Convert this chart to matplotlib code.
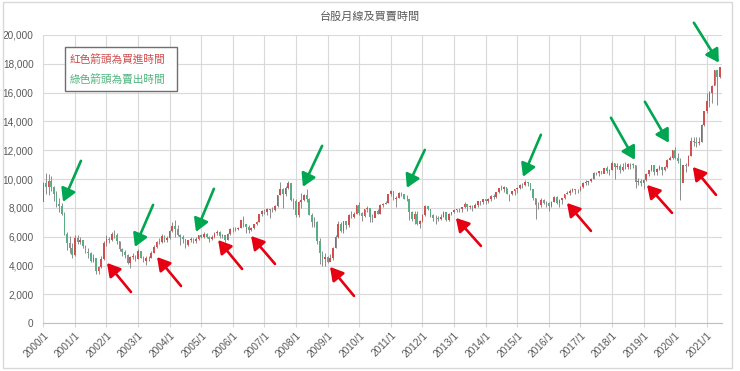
import numpy as np
import pandas as pd
from matplotlib import pyplot as plt
from matplotlib.patches import Rectangle

plt.rcParams['font.family'] = ['Liberation Sans', 'Noto Sans CJK TC']

# monthly TAIEX, 2000/1 .. 2021/6
first_open = 8448
closes = [
    9744, 9436, 9854, 9475, 8939, 8265, 8114, 7616, 6185, 5544, 5256, 4739,
    5936, 5674, 5797, 5382, 4935, 4883, 4352, 4500, 3636, 3903, 4441, 5551,
    5872, 5770, 6167, 6159, 5675, 5153, 4940, 4764, 4191, 4579, 4646, 4452,
    5015, 4556, 4321, 4556, 4555, 4872, 5318, 5650, 5611, 6045, 5771, 5890,
    6375, 6750, 6522, 6117, 5977, 5839, 5420, 5766, 5845, 5705, 5844, 6140,
    5994, 6207, 6005, 5818, 6012, 6241, 6312, 6033, 6118, 5764, 6203, 6548,
    6532, 6561, 6613, 7171, 6870, 6704, 6454, 6611, 6884, 7021, 7567, 7823,
    7699, 7901, 7884, 7875, 8145, 8883, 9287, 8982, 9411, 9711, 8586, 8506,
    7521, 8412, 8572, 8920, 8619, 7523, 7024, 7046, 5719, 4870, 4460, 4591,
    4248, 4557, 5210, 5992, 6890, 6432, 7078, 6826, 7509, 7340, 7582, 8188,
    7640, 7436, 7920, 8004, 7374, 7329, 7761, 7616, 8238, 8288, 8372, 8973,
    9145, 8600, 8683, 9008, 8989, 8653, 8644, 7741, 7225, 7588, 6904, 7072,
    7517, 8121, 7933, 7501, 7301, 7296, 7270, 7397, 7715, 7166, 7580, 7699,
    7850, 7897, 7918, 8093, 8254, 8062, 8107, 8021, 8173, 8450, 8406, 8611,
    8462, 8639, 8849, 8791, 9075, 9393, 9315, 9436, 8966, 8974, 9187, 9307,
    9361, 9622, 9586, 9820, 9701, 9323, 8665, 8174, 8181, 8554, 8320, 8338,
    8145, 8411, 8744, 8377, 8535, 8666, 8984, 9068, 9167, 9290, 9240, 9253,
    9448, 9750, 9811, 9872, 10040, 10395, 10427, 10585, 10383, 10793, 10560, 10643,
    11103, 10815, 10919, 10658, 10875, 10837, 11057, 11064, 11006, 9802, 9888, 9727,
    9932, 10389, 10641, 10967, 10498, 10730, 10823, 10618, 10830, 11358, 11489, 11997,
    11495, 11292, 9708, 10992, 10943, 11621, 12665, 12592, 12516, 12546, 13723, 14733,
    15410, 15953, 16431, 17567, 17068, 17755,
]
highs = [
    9800, 10393, 10328, 10200, 9500, 9150, 8700, 8350, 7700, 6300, 6030, 5600,
    6150, 6100, 6000, 5800, 5450, 5200, 4950, 4800, 4500, 4000, 4700, 5700,
    6100, 6000, 6300, 6484, 6250, 5700, 5250, 5100, 4800, 4700, 4900, 4750,
    5150, 5050, 4650, 4700, 4700, 5000, 5400, 5700, 5900, 6200, 6100, 6050,
    6450, 7000, 7135, 6800, 6200, 6100, 5850, 5800, 6000, 5950, 6000, 6160,
    6200, 6300, 6250, 6050, 6100, 6300, 6480, 6380, 6200, 6150, 6250, 6580,
    6700, 6650, 6700, 7200, 7476, 6900, 6850, 6700, 6900, 7100, 7600, 7830,
    7950, 8000, 7950, 8050, 8200, 8900, 9800, 9400, 9500, 9859, 9700, 8700,
    8600, 8450, 9050, 9000, 9309, 8700, 7650, 7400, 7100, 5900, 5000, 4850,
    4700, 4800, 5300, 6100, 7085, 7000, 7100, 7084, 7600, 7800, 7700, 8200,
    8395, 7750, 7950, 8150, 8000, 7600, 7800, 7900, 8250, 8350, 8500, 8973,
    9220, 9200, 8800, 9100, 9100, 9000, 8900, 8650, 7800, 7800, 7800, 7200,
    7600, 8200, 8170, 7950, 7550, 7500, 7450, 7600, 7800, 7750, 7620, 7750,
    7900, 7950, 8000, 8100, 8400, 8300, 8200, 8200, 8350, 8450, 8460, 8620,
    8650, 8700, 8900, 8950, 9100, 9400, 9570, 9500, 9400, 9000, 9200, 9350,
    9450, 9650, 9700, 9973, 9800, 9700, 9350, 8700, 8400, 8700, 8650, 8500,
    8400, 8450, 8800, 8800, 8600, 8700, 9000, 9150, 9300, 9400, 9300, 9350,
    9500, 9800, 9950, 9900, 10100, 10500, 10500, 10600, 10600, 10800, 10900, 10700,
    11270, 11100, 11100, 11050, 11100, 11200, 11100, 11100, 11100, 11000, 10100, 10000,
    10000, 10400, 10650, 11000, 11000, 10800, 11000, 10850, 10900, 11400, 11600, 12000,
    12197, 11800, 11500, 11000, 11100, 11650, 12900, 12950, 12900, 12950, 13800, 14750,
    16000, 16100, 16500, 17600, 17500, 17800,
]
lows = [
    8450, 9000, 8900, 9200, 8500, 8100, 7700, 7500, 6100, 5100, 4900, 4555,
    4700, 5500, 5500, 5200, 4850, 4550, 4250, 4220, 3450, 3411, 3850, 4400,
    5350, 5550, 5700, 5900, 5500, 5050, 4700, 4550, 4100, 3850, 4450, 4350,
    4450, 4500, 4250, 4050, 4300, 4550, 4850, 5250, 5500, 5600, 5650, 5650,
    5850, 6300, 6000, 6050, 5450, 5600, 5255, 5350, 5650, 5580, 5600, 5800,
    5900, 5950, 5950, 5640, 5800, 5950, 6150, 5950, 5900, 5620, 5750, 6150,
    6300, 6400, 6450, 6600, 6700, 6230, 6250, 6400, 6550, 6800, 7000, 7450,
    7600, 7500, 7300, 7700, 7800, 8100, 8900, 7980, 8800, 9300, 8450, 7900,
    7384, 7400, 8000, 8500, 8400, 7500, 6700, 6700, 5500, 4110, 3955, 4000,
    4164, 4300, 4400, 5200, 5900, 6300, 6250, 6550, 6700, 7300, 7300, 7550,
    7500, 7080, 7400, 7750, 7030, 7050, 7350, 7550, 7600, 8100, 8250, 8350,
    8800, 8550, 8100, 8700, 8800, 8600, 8500, 7150, 7100, 6900, 6800, 6609,
    7000, 7450, 7850, 7400, 7100, 6900, 7080, 7150, 7400, 7100, 7070, 7500,
    7650, 7700, 7750, 7700, 8000, 7800, 7950, 7800, 8000, 8100, 8200, 8250,
    8300, 8350, 8500, 8650, 8700, 9050, 9250, 9100, 8950, 8500, 8900, 8900,
    9050, 9300, 9400, 9500, 9500, 9250, 8550, 7203, 7960, 8100, 8250, 8100,
    7811, 8100, 8400, 8300, 8100, 8250, 8600, 8950, 8900, 9100, 8950, 9050,
    9200, 9400, 9600, 9600, 9800, 10000, 10300, 10200, 10350, 10400, 10450, 10300,
    10650, 10000, 10700, 10400, 10600, 10700, 10700, 10700, 10800, 9400, 9600, 9500,
    9320, 9900, 10200, 10600, 10300, 10300, 10650, 10300, 10550, 10750, 11300, 11400,
    11400, 11100, 8523, 9800, 10500, 10900, 11600, 12300, 12200, 12400, 12600, 13700,
    14600, 15000, 15300, 16500, 15160, 17000,
]
years = list(range(2000, 2022))

# arrows: (head month index, head value, tail month index, tail value)
sell_arrows = [
    (7.5, 8420, 14.3, 11270), (34.8, 5300, 41.7, 8215), (58.0, 6340, 64.8, 9330),
    (98.6, 9465, 105.9, 12310), (138.1, 9395, 144.9, 12030), (182.2, 10160, 189.0, 13080),
    (224.7, 11340, 215.6, 14260), (237.6, 12520, 228.5, 15370), (256.6, 18080, 247.1, 20850),
]
buy_arrows = [
    (24.2, 4190, 33.3, 2170), (43.2, 4600, 52.3, 2590), (66.4, 5780, 75.5, 3770),
    (78.9, 6060, 88.0, 4120), (108.9, 3910, 118.0, 1900), (156.7, 7310, 166.2, 5370),
    (198.9, 8350, 208.0, 6410), (229.3, 9600, 238.8, 7660), (246.7, 10850, 255.5, 8910),
]

df = pd.DataFrame({'close': closes, 'high': highs, 'low': lows})
df['open'] = [first_open] + closes[:-1]
x = np.arange(len(df))
up = df['close'] >= df['open']

fig = plt.figure(figsize=(7.4, 3.71), dpi=100)
ax = fig.add_axes([43.3/740, 1 - 323.3/371, 679/740, (323.3-35)/371])

ax.vlines(x, df['low'], df['high'], color='#8c8c8c', lw=0.7, zorder=2)
body = (df['close'] - df['open']).abs()
bottom = df[['open', 'close']].min(axis=1)
ax.bar(x, body, 0.62, bottom=bottom,
       color=np.where(up, '#d0504f', '#5aae86'), zorder=3)

ax.set_xlim(0, 257.9)
ax.set_ylim(0, 20000)
ax.set_xticks([12*i for i in range(len(years))])
ax.set_xticklabels(['%d/1' % y for y in years], rotation=45, ha='right',
                   rotation_mode='anchor', fontsize=7.3, color='#595959')
ax.set_yticks(range(0, 20001, 2000))
ax.set_yticklabels(['{:,}'.format(v) for v in range(0, 20001, 2000)],
                   fontsize=7.2, color='#595959')
ax.tick_params(axis='x', length=3, color='#d9d9d9', pad=2)
ax.tick_params(axis='y', length=0, pad=7)
ax.grid(True, color='#d9d9d9', lw=0.8, zorder=0)
ax.set_axisbelow(True)
for s in ['top', 'right', 'left']:
    ax.spines[s].set_visible(False)
ax.spines['bottom'].set_color('#bfbfbf')

for hx, hy, tx, ty in sell_arrows:
    ax.annotate('', xy=(hx, hy), xytext=(tx, ty), annotation_clip=False,
                arrowprops=dict(arrowstyle='-|>,head_length=0.55,head_width=0.32',
                                color='#00a650', lw=1.9, shrinkA=0, shrinkB=0,
                                mutation_scale=14), zorder=5)
for hx, hy, tx, ty in buy_arrows:
    ax.annotate('', xy=(hx, hy), xytext=(tx, ty), annotation_clip=False,
                arrowprops=dict(arrowstyle='-|>,head_length=0.55,head_width=0.32',
                                color='#e60012', lw=1.9, shrinkA=0, shrinkB=0,
                                mutation_scale=14), zorder=5)

# legend box
fig.patches.append(Rectangle((65/740, 1 - 91/371), 112/740, 44/371, transform=fig.transFigure,
                             facecolor='white', edgecolor='#6f6f6f', lw=1, zorder=6))
fig.text(70/740, 1 - 60/371, '紅色箭頭為買進時間', color='#cc4c4c', fontsize=7.7,
         va='center', ha='left', zorder=7)
fig.text(70/740, 1 - 79/371, '綠色箭頭為賣出時間', color='#4db57c', fontsize=7.7,
         va='center', ha='left', zorder=7)

fig.text(0.5, 1 - 16/371, '台股月線及買賣時間', ha='center', va='center',
         fontsize=8, color='#595959')

# chart area border
fig.patches.append(Rectangle((3/740, 1 - 368/371), 729/740, 366/371, transform=fig.transFigure,
                             facecolor='none', edgecolor='#d9d9d9', lw=1))

plt.savefig('out.png', dpi=100)
